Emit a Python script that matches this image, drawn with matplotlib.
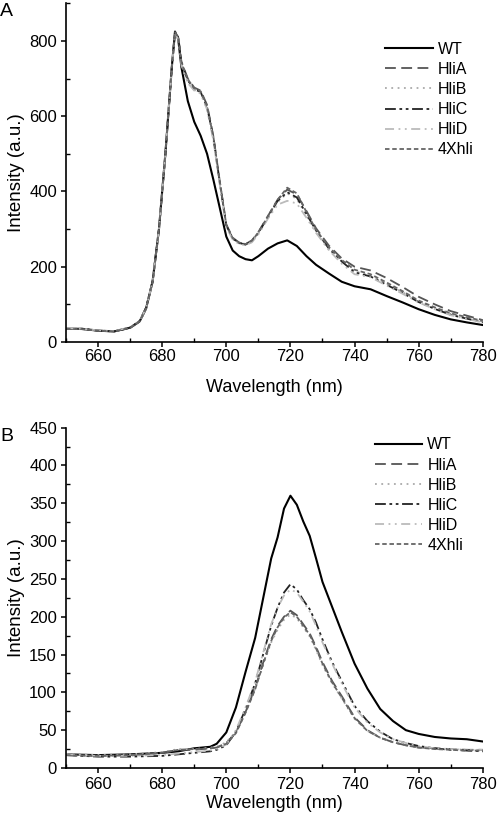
import matplotlib
matplotlib.use("Agg")
import matplotlib.pyplot as plt
from matplotlib.ticker import MultipleLocator

plt.rcParams["font.family"] = ["Liberation Sans", "DejaVu Sans"]

# ---- panel A ----
wave_a = [650, 655, 660, 665, 670, 673, 675, 677, 679, 681, 683, 684,
          685, 686, 688, 690, 692, 694, 696, 698, 700,
          702, 704, 706, 708, 710,
          713, 716, 719, 722, 725, 728,
          732, 736, 740, 745, 750,
          755, 760, 765, 770, 775, 780]
wt_a = [35, 35, 30, 28, 38, 55, 90, 160, 300, 500, 730, 825,
        805, 730, 640, 585, 548, 500, 430, 355, 280,
        243, 228, 220, 217, 228,
        248, 262, 270, 255, 228, 205,
        182, 160, 148, 140, 122,
        105, 87, 72, 60, 52, 45]
hlia_a = [35, 34, 30, 28, 37, 54, 88, 158, 298, 500, 728, 820,
          812, 745, 700, 676, 668, 630, 545, 425, 312,
          277, 264, 260, 270, 292,
          335, 378, 405, 392, 348, 302,
          256, 222, 200, 190, 170,
          146, 120, 100, 82, 70, 58]
hlib_a = [36, 35, 31, 29, 38, 55, 90, 160, 302, 502, 730, 822,
          808, 738, 690, 670, 662, 620, 538, 418, 308,
          274, 262, 258, 266, 288,
          330, 372, 395, 380, 336, 292,
          245, 212, 188, 176, 155,
          132, 108, 90, 74, 64, 54]
hlic_a = [35, 35, 30, 28, 38, 56, 92, 162, 300, 498, 728, 824,
          810, 742, 695, 672, 664, 624, 542, 422, 310,
          275, 263, 259, 268, 290,
          332, 375, 398, 384, 340, 296,
          248, 214, 185, 174, 152,
          130, 106, 88, 72, 62, 52]
hlid_a = [36, 35, 31, 29, 39, 56, 90, 160, 300, 500, 730, 818,
          805, 735, 688, 668, 660, 618, 535, 415, 305,
          272, 260, 257, 265, 286,
          328, 365, 375, 368, 330, 290,
          244, 208, 180, 172, 150,
          128, 105, 87, 71, 61, 52]
x4hli_a = [35, 34, 30, 28, 38, 55, 90, 160, 300, 500, 730, 823,
           810, 742, 698, 674, 666, 626, 544, 424, 311,
           276, 264, 260, 269, 291,
           334, 378, 410, 395, 345, 298,
           252, 218, 192, 180, 158,
           135, 110, 92, 76, 66, 56]

# ---- panel B ----
wave_b = [650, 660, 670, 680, 685, 690, 695,
          697, 700, 703, 706, 709, 712,
          714, 716, 718, 720, 722, 724,
          726, 728, 730, 733, 736, 740,
          744, 748, 752, 756, 760,
          765, 770, 775, 780]
wt_b = [18, 17, 18, 20, 22, 26, 28,
        32, 47, 80, 127, 172, 235,
        277, 305, 343, 360, 348, 326,
        307, 277, 246, 213, 180, 138,
        105, 78, 62, 50, 45,
        41, 39, 38, 35]
hlia_b = [17, 16, 17, 20, 24, 24, 26,
          27, 33, 47, 74, 106, 146,
          170, 188, 200, 208, 202, 190,
          178, 160, 140, 115, 95, 67,
          50, 40, 34, 30, 27,
          26, 25, 24, 24]
hlib_b = [18, 17, 18, 21, 25, 25, 27,
          28, 34, 48, 75, 105, 142,
          166, 183, 196, 203, 198, 186,
          174, 156, 136, 112, 92, 65,
          49, 40, 34, 30, 27,
          25, 25, 24, 24]
hlic_b = [17, 15, 15, 16, 18, 20, 22,
          24, 30, 48, 78, 112, 158,
          188, 212, 232, 243, 236, 222,
          210, 192, 170, 140, 115, 82,
          62, 48, 38, 33, 29,
          26, 24, 23, 22]
hlid_b = [18, 16, 16, 17, 19, 21, 23,
          25, 31, 50, 80, 114, 160,
          190, 212, 228, 236, 232, 220,
          207, 188, 166, 138, 112, 80,
          60, 47, 38, 33, 29,
          26, 25, 24, 24]
x4hli_b = [17, 16, 17, 20, 24, 25, 26,
           27, 32, 46, 73, 104, 144,
           168, 186, 199, 206, 200, 188,
           176, 158, 138, 113, 93, 66,
           49, 40, 34, 30, 27,
           25, 24, 23, 23]

labels = ["WT", "HliA", "HliB", "HliC", "HliD", "4Xhli"]
styles = [
    dict(color="black", lw=1.5, ls="-"),
    dict(color="#555555", lw=1.3, dashes=(6, 3)),
    dict(color="#aaaaaa", lw=1.3, dashes=(1, 2.5)),
    dict(color="#222222", lw=1.3, dashes=(6, 2, 1.5, 2, 1.5, 2)),
    dict(color="#bbbbbb", lw=1.3, dashes=(5, 2.5, 1, 2.5, 1, 2.5)),
    dict(color="#666666", lw=1.3, dashes=(2.5, 1.5)),
]


def draw_panel(ax, wave, series, ymax, ymajor, yminor, letter, leg_anchor,
               xpad, xlabpad):
    for lab, ys, st in zip(labels, series, styles):
        ax.plot(wave, ys, label=lab, **st)
    ax.set_xlim(650, 780)
    ax.set_ylim(0, ymax)
    ax.xaxis.set_major_locator(MultipleLocator(20))
    ax.xaxis.set_minor_locator(MultipleLocator(10))
    ax.yaxis.set_major_locator(MultipleLocator(ymajor))
    ax.yaxis.set_minor_locator(MultipleLocator(yminor))
    ax.spines["top"].set_visible(False)
    ax.spines["right"].set_visible(False)
    for s in ("left", "bottom"):
        ax.spines[s].set_linewidth(1.2)
    ax.tick_params(which="major", direction="out", length=3.5, width=1.1,
                   labelsize=12, pad=3)
    ax.tick_params(axis="x", which="major", pad=xpad)
    ax.tick_params(which="minor", direction="in", length=3, width=1.0)
    ax.set_xlabel("Wavelength (nm)", fontsize=13, labelpad=xlabpad)
    ax.set_ylabel("Intensity (a.u.)", fontsize=13.5, labelpad=3)
    ax.legend(loc="upper left", bbox_to_anchor=leg_anchor, frameon=False,
              fontsize=11.5, handlelength=3.0, handletextpad=0.3,
              labelspacing=0.32, borderaxespad=0)
    ax.text(-0.158, 1.0, letter, transform=ax.transAxes, fontsize=14,
            ha="left", va="top")


fig = plt.figure(figsize=(4.98, 8.24), dpi=100)
ax_a = fig.add_axes([0.1325, 0.585, 0.837, 0.411])
ax_b = fig.add_axes([0.1325, 0.068, 0.837, 0.413])

draw_panel(ax_a, wave_a, [wt_a, hlia_a, hlib_a, hlic_a, hlid_a, x4hli_a],
           900, 200, 100, "A", (0.75, 0.905), 1.5, 11)
draw_panel(ax_b, wave_b, [wt_b, hlia_b, hlib_b, hlic_b, hlid_b, x4hli_b],
           450, 50, 25, "B", (0.725, 0.99), 3, 2)

fig.savefig("out.png", dpi=100, facecolor="white")
